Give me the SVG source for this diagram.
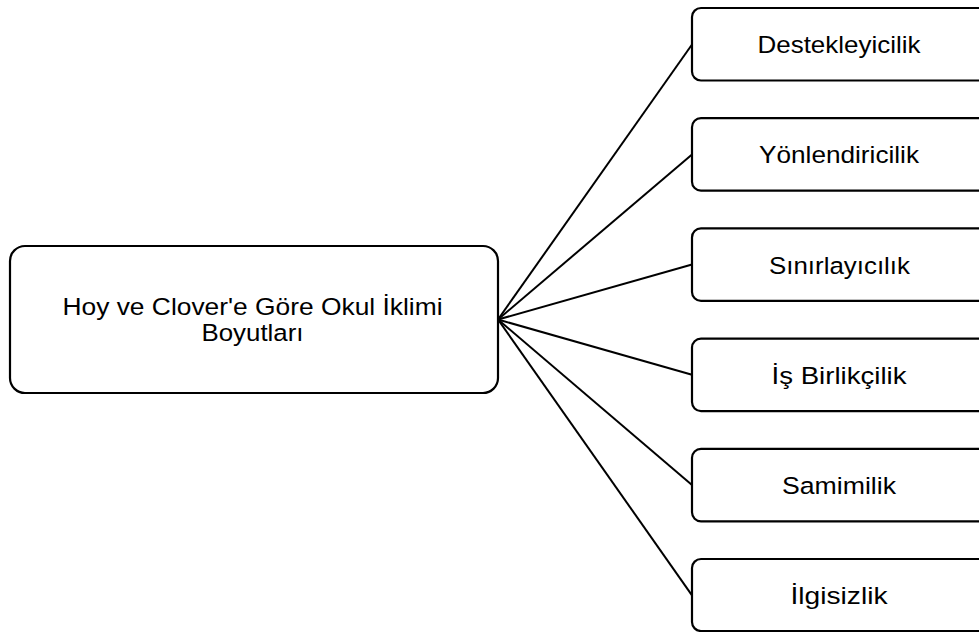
<svg xmlns="http://www.w3.org/2000/svg" width="979" height="632" viewBox="0 0 979 632">
  <style>
    .box { fill: #ffffff; stroke: #000000; stroke-width: 2.2; }
    .link { stroke: #000000; stroke-width: 2; fill: none; }
    .label { font-family: "Liberation Sans", Arial, sans-serif; font-size: 24.5px; fill: #000000; text-anchor: middle; }
  </style>
  <rect width="979" height="632" fill="#ffffff"/>

  <!-- connectors fan out from the root node to each dimension -->
  <g id="connectors">
    <line class="link" x1="498" y1="319.5" x2="692" y2="44.5"/>
    <line class="link" x1="498" y1="319.5" x2="692" y2="154.5"/>
    <line class="link" x1="498" y1="319.5" x2="692" y2="264.5"/>
    <line class="link" x1="498" y1="319.5" x2="692" y2="374.8"/>
    <line class="link" x1="498" y1="319.5" x2="692" y2="485"/>
    <line class="link" x1="498" y1="319.5" x2="692" y2="595.3"/>
  </g>

  <g id="root">
    <rect class="box" x="10" y="246" width="488" height="147" rx="15"/>
    <text class="label" x="252.5" y="315" textLength="380" lengthAdjust="spacingAndGlyphs">Hoy ve Clover'e Göre Okul İklimi</text>
    <text class="label" x="252.5" y="341" textLength="102" lengthAdjust="spacingAndGlyphs">Boyutları</text>
  </g>

  <g id="destekleyicilik">
    <rect class="box" x="692" y="8" width="300" height="72.5" rx="9"/>
    <text class="label" x="839" y="53.2" textLength="163" lengthAdjust="spacingAndGlyphs">Destekleyicilik</text>
  </g>

  <g id="yonlendiricilik">
    <rect class="box" x="692" y="118.2" width="300" height="72.5" rx="9"/>
    <text class="label" x="839" y="163.4" textLength="160" lengthAdjust="spacingAndGlyphs">Yönlendiricilik</text>
  </g>

  <g id="sinirlayicilik">
    <rect class="box" x="692" y="228.4" width="300" height="72.5" rx="9"/>
    <text class="label" x="839.5" y="273.6" textLength="141" lengthAdjust="spacingAndGlyphs">Sınırlayıcılık</text>
  </g>

  <g id="is-birlikcilik">
    <rect class="box" x="692" y="338.6" width="300" height="72.5" rx="9"/>
    <text class="label" x="839" y="383.8" textLength="135" lengthAdjust="spacingAndGlyphs">İş Birlikçilik</text>
  </g>

  <g id="samimilik">
    <rect class="box" x="692" y="448.8" width="300" height="72.5" rx="9"/>
    <text class="label" x="839" y="494" textLength="114" lengthAdjust="spacingAndGlyphs">Samimilik</text>
  </g>

  <g id="ilgisizlik">
    <rect class="box" x="692" y="559" width="300" height="72" rx="9"/>
    <text class="label" x="839" y="604" textLength="97" lengthAdjust="spacingAndGlyphs">İlgisizlik</text>
  </g>
</svg>
